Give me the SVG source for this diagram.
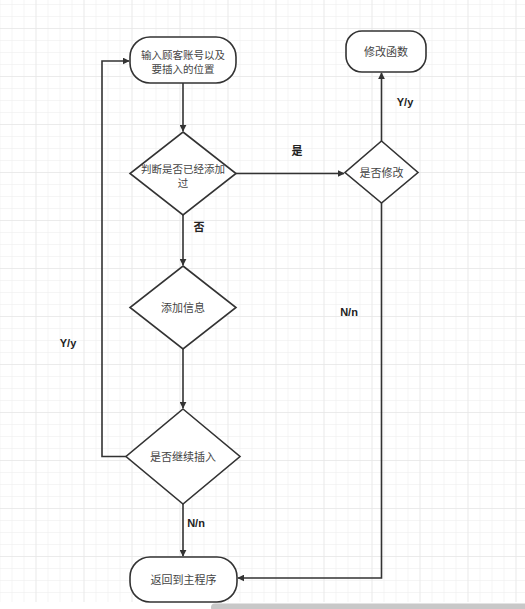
<svg xmlns="http://www.w3.org/2000/svg" width="525" height="609" viewBox="0 0 525 609">
<defs>
<pattern id="minor" x="11.5" y="4" width="12" height="12" patternUnits="userSpaceOnUse">
<path d="M0 0V12M0 0H12" fill="none" stroke="#ececec" stroke-width="1"/>
</pattern>
<pattern id="major" x="35.5" y="28" width="48" height="48" patternUnits="userSpaceOnUse">
<path d="M0 0V48M0 0H48" fill="none" stroke="#e2e2e2" stroke-width="1"/>
</pattern>
<marker id="arr" viewBox="0 0 10 10" refX="9" refY="5" markerWidth="7" markerHeight="7" orient="auto" markerUnits="userSpaceOnUse">
<path d="M0 0L10 5L0 10Z" fill="#333"/>
</marker>
</defs>
<style>
.shape{fill:#fff;stroke:#333;stroke-width:1.6}
.edge{fill:none;stroke:#333;stroke-width:1.6;marker-end:url(#arr)}
.t{font-family:"Noto Sans CJK SC","Liberation Sans",sans-serif;font-size:11px;fill:#444;text-anchor:middle}
.t2{font-size:10.5px}
.lb{font-family:"Liberation Sans","Noto Sans CJK SC",sans-serif;font-size:11px;font-weight:bold;fill:#222;text-anchor:middle}
</style>
<rect width="525" height="609" fill="#fff"/>
<rect x="0" y="0" width="525" height="602" fill="url(#minor)"/>
<rect x="0" y="0" width="525" height="602" fill="url(#major)"/>
<rect x="211" y="603.5" width="330" height="8" rx="4" fill="#c8c8c8"/>

<g id="connectors">
<path class="edge" d="M183 83V131"/>
<path class="edge" d="M236 173.5H344"/>
<path class="edge" d="M381.5 141V73"/>
<path class="edge" d="M381.5 203V578H238"/>
<path class="edge" d="M183 215V265"/>
<path class="edge" d="M183 349V408"/>
<path class="edge" d="M126 456.5H102V61H129"/>
<path class="edge" d="M183 504V556"/>
<text class="lb" x="297" y="155">是</text>
<text class="lb" x="405" y="106">Y/y</text>
<text class="lb" x="349" y="316">N/n</text>
<text class="lb" x="199" y="231">否</text>
<text class="lb" x="68" y="347">Y/y</text>
<text class="lb" x="196" y="527">N/n</text>
</g>

<g id="input">
<rect class="shape" x="130" y="37" width="106" height="46" rx="20"/>
<text class="t t2" x="183" y="58.5">输入顾客账号以及</text>
<text class="t t2" x="183" y="73">要插入的位置</text>
</g>
<g id="check-added">
<path class="shape" d="M183 132L236 173.5L183 215L130 173.5Z"/>
<text class="t t2" x="183" y="172.5">判断是否已经添加</text>
<text class="t t2" x="183" y="187">过</text>
</g>
<g id="check-modify">
<path class="shape" d="M381.5 141L418 172.5L381.5 203L345 172.5Z"/>
<text class="t" x="381.5" y="176.5">是否修改</text>
</g>
<g id="modify">
<rect class="shape" x="346" y="31" width="80" height="41" rx="16"/>
<text class="t" x="386" y="55.5">修改函数</text>
</g>
<g id="add-info">
<path class="shape" d="M183 266L236 307.5L183 349L130 307.5Z"/>
<text class="t" x="183" y="311.5">添加信息</text>
</g>
<g id="continue">
<path class="shape" d="M183 409L240 456.5L183 504L126 456.5Z"/>
<text class="t" x="183" y="460.5">是否继续插入</text>
</g>
<g id="return">
<rect class="shape" x="130" y="557" width="107" height="45" rx="20"/>
<text class="t" x="183.5" y="583.5">返回到主程序</text>
</g>
</svg>
